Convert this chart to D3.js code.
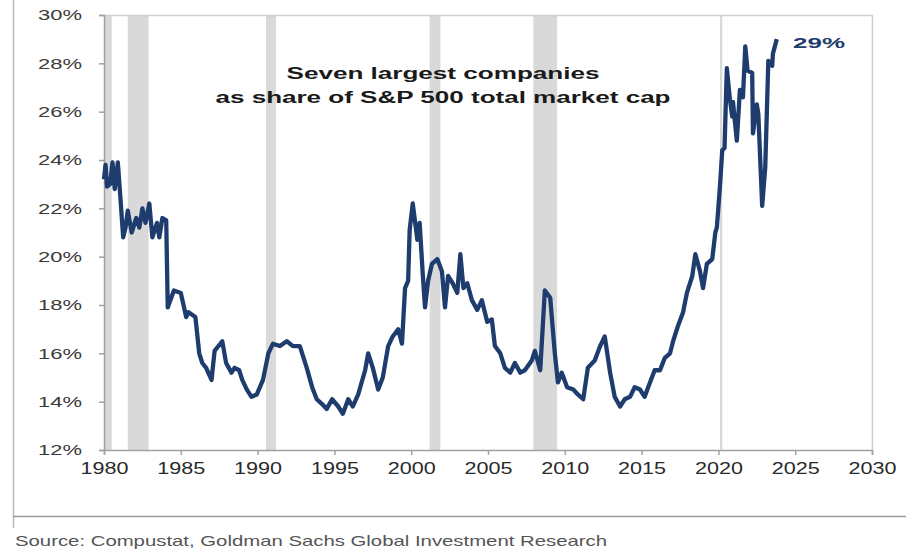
<!DOCTYPE html>
<html>
<head>
<meta charset="utf-8">
<script src="https://cdn.jsdelivr.net/npm/d3@7"></script>
<style>
  html, body { margin: 0; padding: 0; background: #fff; }
  svg { display: block; font-family: "Liberation Sans", Arial, sans-serif; }
</style>
</head>
<body>
<svg id="chart" width="906" height="550"></svg>
<script>
// ---- data ----
const years = [
  1980.0, 1980.1, 1980.2, 1980.4, 1980.55, 1980.7, 1980.9, 1981.05, 1981.25, 1981.4,
  1981.55, 1981.8, 1982.1, 1982.3, 1982.5, 1982.7, 1982.95, 1983.15, 1983.45, 1983.6,
  1983.8, 1984.05, 1984.15, 1984.55, 1985.0, 1985.35, 1985.5, 1985.95, 1986.2, 1986.4,
  1986.65, 1987.0, 1987.2, 1987.7, 1987.95, 1988.3, 1988.5, 1988.8, 1989.0, 1989.3,
  1989.6, 1989.95, 1990.35, 1990.7, 1991.0, 1991.45, 1991.9, 1992.3, 1992.75, 1993.2,
  1993.55, 1993.85, 1994.2, 1994.5, 1994.85, 1995.25, 1995.55, 1995.9, 1996.2, 1996.55,
  1997.0, 1997.2, 1997.5, 1997.85, 1998.15, 1998.5, 1998.8, 1999.15, 1999.4, 1999.6,
  1999.8, 1999.9, 2000.1, 2000.4, 2000.55, 2000.75, 2000.9, 2001.1, 2001.35, 2001.7,
  2002.0, 2002.2, 2002.4, 2002.7, 2003.0, 2003.2, 2003.4, 2003.65, 2003.95, 2004.3,
  2004.6, 2004.95, 2005.25, 2005.45, 2005.8, 2006.1, 2006.45, 2006.75, 2007.1, 2007.4,
  2007.85, 2008.05, 2008.4, 2008.7, 2009.05, 2009.35, 2009.55, 2009.8, 2010.15, 2010.55,
  2010.85, 2011.2, 2011.5, 2011.95, 2012.3, 2012.6, 2012.95, 2013.25, 2013.6, 2013.9,
  2014.25, 2014.55, 2014.9, 2015.2, 2015.55, 2015.85, 2016.2, 2016.5, 2016.85, 2017.05,
  2017.35, 2017.7, 2017.95, 2018.3, 2018.5, 2018.8, 2019.0, 2019.25, 2019.6, 2019.8,
  2019.9, 2020.1, 2020.25, 2020.4, 2020.55, 2020.75, 2020.9, 2020.95, 2021.2, 2021.4,
  2021.6, 2021.75, 2021.9, 2022.2, 2022.25, 2022.5, 2022.6, 2022.85, 2023.05, 2023.25,
  2023.5, 2023.55, 2023.8
];
const share = [
  23.2, 23.8, 22.9, 23.0, 23.9, 22.8, 23.9, 22.6, 20.8, 21.2,
  21.9, 21.0, 21.6, 21.2, 22.0, 21.4, 22.2, 20.8, 21.4, 20.8,
  21.6, 21.5, 17.9, 18.6, 18.5, 17.5, 17.7, 17.5, 16.0, 15.6,
  15.4, 14.9, 16.1, 16.5, 15.6, 15.2, 15.4, 15.3, 14.9, 14.5,
  14.2, 14.3, 14.9, 16.0, 16.4, 16.3, 16.5, 16.3, 16.3, 15.4,
  14.6, 14.1, 13.9, 13.7, 14.1, 13.8, 13.5, 14.1, 13.8, 14.3,
  15.3, 16.0, 15.4, 14.5, 15.0, 16.3, 16.7, 17.0, 16.4, 18.7,
  19.0, 21.1, 22.2, 20.7, 21.4, 19.3, 17.9, 19.0, 19.7, 19.9,
  19.4, 17.9, 19.2, 18.9, 18.5, 20.1, 18.7, 18.9, 18.2, 17.8,
  18.2, 17.3, 17.4, 16.3, 16.0, 15.4, 15.2, 15.6, 15.2, 15.3,
  15.7, 16.1, 15.3, 18.6, 18.3, 16.0, 14.8, 15.2, 14.6, 14.5,
  14.3, 14.1, 15.4, 15.7, 16.3, 16.7, 15.2, 14.2, 13.8, 14.1,
  14.2, 14.6, 14.5, 14.2, 14.8, 15.3, 15.3, 15.8, 16.0, 16.5,
  17.1, 17.7, 18.5, 19.2, 20.1, 19.4, 18.7, 19.7, 19.9, 21.0,
  21.2, 22.9, 24.4, 24.5, 27.8, 26.5, 25.8, 26.4, 24.8, 26.9,
  26.6, 28.7, 27.7, 27.6, 25.1, 26.3, 25.9, 22.1, 23.7, 28.1,
  27.9, 28.4, 29.0
];
const recessionStart = [1980.0, 1981.55, 1990.55, 2001.2, 2007.95, 2020.1];
const recessionEnd   = [1980.5, 1982.9, 1991.2, 2001.9, 2009.5, 2020.25];
const yTicks = [12, 14, 16, 18, 20, 22, 24, 26, 28, 30];
const xTicks = [1980, 1985, 1990, 1995, 2000, 2005, 2010, 2015, 2020, 2025, 2030];
const titleLines = ["Seven largest companies", "as share of S&P 500 total market cap"];
const endLabel = "29%";
const sourceText = "Source: Compustat, Goldman Sachs Global Investment Research";

// ---- layout ----
const svg = d3.select("#chart");
const L = 104, R = 872, T = 15, B = 450;
const x = d3.scaleLinear().domain([1980, 2030]).range([L, R]);
const y = d3.scaleLinear().domain([12, 30]).range([B, T]);

// outer decorations
svg.append("line").attr("x1", 13.5).attr("x2", 13.5).attr("y1", 0).attr("y2", 528)
  .attr("stroke", "#b8b8b8").attr("stroke-width", 1.5);
svg.append("line").attr("x1", 13).attr("x2", 906).attr("y1", 516.5).attr("y2", 516.5)
  .attr("stroke", "#9a9a9a").attr("stroke-width", 1.5);

// recession bars
svg.append("g").selectAll("rect")
  .data(recessionStart.map((s, i) => ({ s, e: recessionEnd[i] })))
  .join("rect")
  .attr("x", d => x(d.s))
  .attr("width", d => Math.max(1.5, x(d.e) - x(d.s)))
  .attr("y", T).attr("height", B - T)
  .attr("fill", "#d9d9d9");

// frame top/right
svg.append("path")
  .attr("d", `M${L},${T + 0.5}H${R + 0.5}V${B}`)
  .attr("fill", "none").attr("stroke", "#cfcfcf").attr("stroke-width", 1.5);

// y axis
const yAxis = svg.append("g").attr("transform", `translate(${L},0)`)
  .call(d3.axisLeft(y).tickValues(yTicks).tickFormat(d => d + "%").tickSize(5).tickPadding(17));
yAxis.select(".domain").attr("stroke", "#a0a0a0").attr("stroke-width", 1.5);
yAxis.selectAll(".tick line").attr("stroke", "#a0a0a0").attr("stroke-width", 1.5);
yAxis.selectAll("text").attr("font-size", 15).attr("fill", "#3a3a3a")
  .attr("font-family", "Liberation Sans, Arial, sans-serif")
  .attr("textLength", 44).attr("lengthAdjust", "spacingAndGlyphs");

// x axis
const xAxis = svg.append("g").attr("transform", `translate(0,${B})`)
  .call(d3.axisBottom(x).tickValues(xTicks).tickFormat(d3.format("d")).tickSize(5).tickPadding(8));
xAxis.select(".domain").attr("stroke", "#a0a0a0").attr("stroke-width", 1.5);
xAxis.selectAll(".tick line").attr("stroke", "#a0a0a0").attr("stroke-width", 1.5);
xAxis.selectAll("text").attr("font-size", 16).attr("fill", "#2a2a2a")
  .attr("font-family", "Liberation Sans, Arial, sans-serif")
  .attr("textLength", 48).attr("lengthAdjust", "spacingAndGlyphs");

// line
const pts = years.map((yr, i) => [yr, share[i]]);
svg.append("path")
  .datum(pts)
  .attr("d", d3.line().x(d => x(d[0])).y(d => y(d[1])))
  .attr("fill", "none")
  .attr("stroke", "#1e3d6e")
  .attr("stroke-width", 4.3)
  .attr("stroke-linejoin", "round");

// title
const titleW = [313, 455];
svg.append("g").selectAll("text").data(titleLines).join("text")
  .attr("x", 443).attr("y", (d, i) => 79 + i * 24)
  .attr("text-anchor", "middle")
  .attr("font-size", 16).attr("font-weight", "bold").attr("fill", "#1a1a1a")
  .attr("textLength", (d, i) => titleW[i]).attr("lengthAdjust", "spacingAndGlyphs")
  .text(d => d);

// end label
svg.append("text")
  .attr("x", 793).attr("y", 48)
  .attr("font-size", 15).attr("font-weight", "bold").attr("fill", "#1e3d6e")
  .attr("textLength", 52).attr("lengthAdjust", "spacingAndGlyphs")
  .text(endLabel);

// source
svg.append("text")
  .attr("x", 15).attr("y", 546)
  .attr("font-size", 15).attr("fill", "#555")
  .attr("textLength", 592).attr("lengthAdjust", "spacingAndGlyphs")
  .text(sourceText);
</script>
</body>
</html>
